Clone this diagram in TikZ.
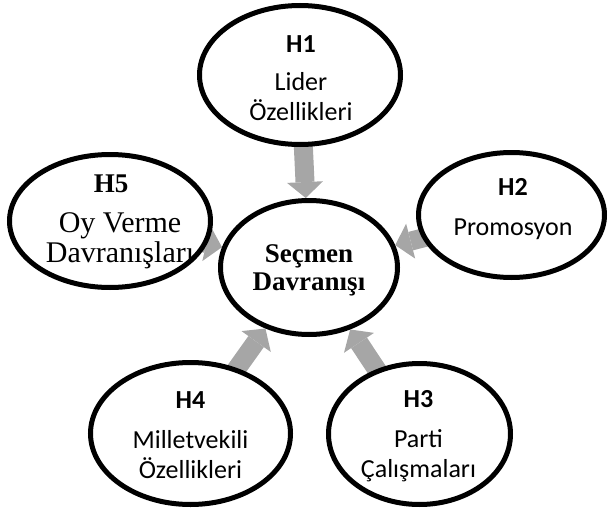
\documentclass[tikz,border=0pt]{standalone}
\usepackage{fontspec}
\setmainfont{Liberation Serif}
\newfontfamily\calibri{Carlito}
\usetikzlibrary{shapes.geometric,arrows.meta}
\pgfdeclarelayer{bg}
\pgfsetlayers{bg,main}
\definecolor{arrgray}{RGB}{166,166,166}
\tikzset{
  ell/.style={ellipse, draw=black, line width=5pt, fill=white, inner sep=0pt},
  txt/.style={inner sep=0pt, align=center},
  cal/.style={txt, font=\calibri\fontsize{26}{30}\selectfont},
  blockarrow/.style={draw=arrgray, line width=19pt, -{Triangle[width=36pt,length=16pt,line width'=0pt]}}
}
\begin{document}
\begin{tikzpicture}[x=1pt,y=-1pt]
\useasboundingbox (0,0) rectangle (608,511);
% ellipses
\node[ell, minimum width=177pt, minimum height=134pt] (c) at (309,267.5) {};
\node[ell, minimum width=201pt, minimum height=139pt] (h1) at (300,75) {};
\node[ell, minimum width=186pt, minimum height=125pt] (h2) at (511.5,215) {};
\node[ell, minimum width=182pt, minimum height=141pt] (h3) at (419.5,434) {};
\node[ell, minimum width=200pt, minimum height=142pt] (h4) at (190.5,433.5) {};
\node[ell, minimum width=201pt, minimum height=133pt] (h5) at (110,221) {};
% texts
\node[txt, font=\bfseries\fontsize{27}{28}\selectfont] (tc) at (309,270) {Seçmen\\Davranışı};
\node[cal] (t1) at (301,78) {\textbf{H1}\\[8pt]Lider\\Özellikleri};
\node[cal] (t2) at (513,209) {\textbf{H2}\\[10pt]Promosyon};
\node[cal] (t3) at (418.5,436) {\textbf{H3}\\[10pt]Parti\\Çalışmaları};
\node[cal] (t4) at (190.5,435) {\textbf{H4}\\[10pt]Milletvekili\\Özellikleri};
\node[txt, font=\bfseries\fontsize{27}{30}\selectfont, anchor=base] (t5a) at (111,192) {H5};
\node[txt, font=\fontsize{30}{30}\selectfont, anchor=base] (t5b) at (120,262) {Oy Verme\\Davranışları};
% arrows
\begin{pgfonlayer}{bg}
\draw[blockarrow] (h1.center) -- (c);
\draw[blockarrow] (h2.center) -- (c);
\draw[blockarrow] (h3.center) -- (c);
\draw[blockarrow] (h4.center) -- (c);
\draw[blockarrow] (h5.center) -- (c);
\end{pgfonlayer}
\end{tikzpicture}
\end{document}
